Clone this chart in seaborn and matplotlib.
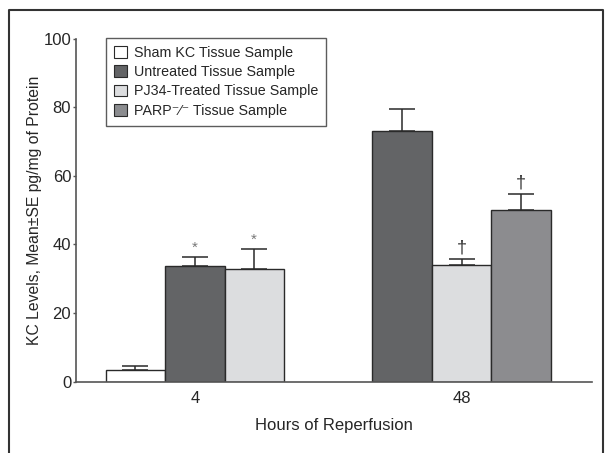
import numpy as np
import pandas as pd
import matplotlib
matplotlib.use('Agg')
import matplotlib.pyplot as plt
from matplotlib.lines import Line2D
from matplotlib.patches import Patch
import seaborn as sns

# data
hours = ['4', '4', '4', '48', '48', '48']
groups = ['Sham KC Tissue Sample', 'Untreated Tissue Sample', 'PJ34-Treated Tissue Sample',
          'Untreated Tissue Sample', 'PJ34-Treated Tissue Sample', 'PARP\u207b\u2044\u207b Tissue Sample']
means = [3.3, 33.7, 33.0, 73.2, 33.9, 50.0]
se = [1.4, 2.7, 5.8, 6.2, 1.8, 4.6]
marks = ['', '*', '*', '', '\u2020', '\u2020']

hue_order = ['Sham KC Tissue Sample', 'Untreated Tissue Sample',
             'PJ34-Treated Tissue Sample', 'PARP\u207b\u2044\u207b Tissue Sample']
colors = ['#ffffff', '#636466', '#dcdddf', '#8b8c8f']
hour_levels = ['4', '48']
group_gap = 4.49  # distance between group centres, in bar widths

sns.set_style('ticks')
plt.rcParams['font.family'] = ['Liberation Sans', 'DejaVu Sans']

df = pd.DataFrame({'hours': hours, 'group': groups, 'mean': means, 'se': se, 'mark': marks})
# position of each bar: centred within its hour group
df['slot'] = df.groupby('hours').cumcount()
df['n'] = df.groupby('hours')['group'].transform('count')
df['pos'] = df['hours'].map({h: i * group_gap for i, h in enumerate(hour_levels)}) \
    + df['slot'] - (df['n'] - 1) / 2

fig = plt.figure(figsize=(6.08, 4.53), dpi=100)
ax = fig.add_axes([0.125, 0.1574, 0.849, 0.7572])

sns.barplot(data=df, x='pos', y='mean', hue='group', hue_order=hue_order,
            palette=colors, native_scale=True, dodge=False, width=1.0,
            errorbar=None, edgecolor='#2a2a2a', linewidth=1.0, ax=ax, legend=False)
for p in ax.patches:
    p.set_zorder(2)

ax.errorbar(df['pos'], df['mean'], yerr=[np.zeros(len(df)), df['se']],
            fmt='none', ecolor='#2a2a2a', elinewidth=1.1, capsize=9.5, capthick=1.1, zorder=1)

for _, r in df.iterrows():
    if r['mark'] == '*':
        ax.text(r['pos'], r['mean'] + r['se'] + 0.6, r['mark'], ha='center', va='bottom',
                fontsize=11, color='#777777')
    elif r['mark']:
        ax.text(r['pos'], r['mean'] + r['se'] + 0.8, r['mark'], ha='center', va='bottom',
                fontsize=13, color='#333333')

ax.set_ylim(0, 100)
ax.set_yticks([0, 20, 40, 60, 80, 100])
ax.set_xlim(-2.0, group_gap + 2.2)
ax.set_xticks([i * group_gap for i in range(len(hour_levels))])
ax.set_xticklabels(hour_levels)
ax.tick_params(axis='x', length=0, pad=7, labelsize=12)
ax.tick_params(axis='y', length=2.5, width=1, color='#555555', labelsize=12, pad=1)
ax.set_xlabel('Hours of Reperfusion', fontsize=12, labelpad=8)
ax.set_ylabel('KC Levels, Mean\u00b1SE pg/mg of Protein', fontsize=11.3, labelpad=1)
sns.despine(ax=ax)
for s in ['left', 'bottom']:
    ax.spines[s].set_color('#555555')
    ax.spines[s].set_linewidth(1.2)

handles = [Patch(facecolor=c, edgecolor='#2a2a2a', linewidth=0.8) for c in colors]
leg = ax.legend(handles, hue_order, loc='upper left', bbox_to_anchor=(0.058, 1.003),
                borderaxespad=0, frameon=True, fancybox=False, edgecolor='#333333',
                fontsize=10.3, handlelength=0.9, handleheight=0.9, handletextpad=0.5,
                labelspacing=0.38, borderpad=0.55)
leg.get_frame().set_linewidth(1.0)

# outer frame (left, top, right)
fig.add_artist(Line2D([0.015, 0.015, 0.991, 0.991], [0.0, 0.977, 0.977, 0.0],
                      transform=fig.transFigure, color='#333333', linewidth=1.5))

fig.savefig('out.png', dpi=100)
